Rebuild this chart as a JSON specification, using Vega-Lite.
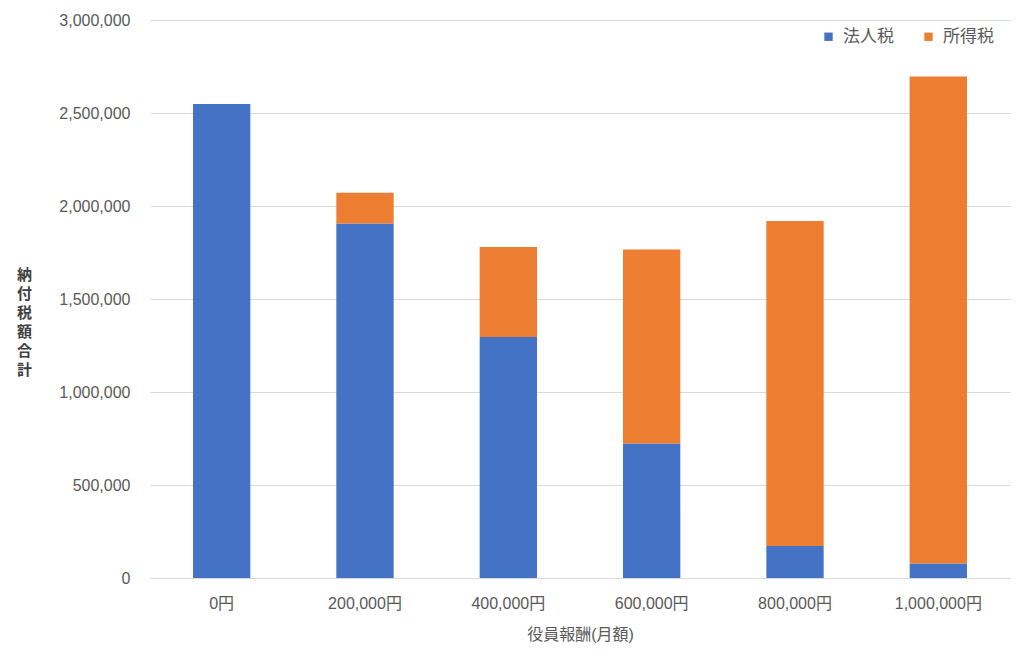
{
  "$schema": "https://vega.github.io/schema/vega-lite/v6.json",
  "autosize": "none",
  "width": 860,
  "height": 558,
  "padding": {"left": 150, "top": 20, "right": 14, "bottom": 83},
  "background": "white",
  "data": {
    "values": [
      {"報酬": "0円", "税": "法人税", "額": 2548000},
      {"報酬": "0円", "税": "所得税", "額": 0},
      {"報酬": "200,000円", "税": "法人税", "額": 1906000},
      {"報酬": "200,000円", "税": "所得税", "額": 165000},
      {"報酬": "400,000円", "税": "法人税", "額": 1296000},
      {"報酬": "400,000円", "税": "所得税", "額": 484000},
      {"報酬": "600,000円", "税": "法人税", "額": 723000},
      {"報酬": "600,000円", "税": "所得税", "額": 1043000},
      {"報酬": "800,000円", "税": "法人税", "額": 172000},
      {"報酬": "800,000円", "税": "所得税", "額": 1747000},
      {"報酬": "1,000,000円", "税": "法人税", "額": 78000},
      {"報酬": "1,000,000円", "税": "所得税", "額": 2618000}
    ]
  },
  "mark": {"type": "bar"},
  "encoding": {
    "x": {
      "field": "報酬",
      "type": "nominal",
      "sort": null,
      "scale": {"paddingInner": 0.6, "paddingOuter": 0.3},
      "axis": {
        "title": "役員報酬(月額)",
        "labelAngle": 0,
        "labelFontSize": 16,
        "labelColor": "#595959",
        "labelPadding": 17,
        "ticks": false,
        "domainColor": "#d9d9d9",
        "titleFontSize": 16,
        "titleFontWeight": "normal",
        "titleColor": "#595959",
        "titlePadding": 15
      }
    },
    "y": {
      "field": "額",
      "type": "quantitative",
      "stack": "zero",
      "scale": {"domain": [0, 3000000]},
      "axis": {
        "values": [0, 500000, 1000000, 1500000, 2000000, 2500000, 3000000],
        "format": ",d",
        "title": ["納", "付", "税", "額", "合", "計"],
        "titleAngle": 0,
        "titleX": -126,
        "titleY": 254,
        "titleAlign": "center",
        "titleBaseline": "middle",
        "titleLineHeight": 19,
        "titleFontSize": 15,
        "titleFontWeight": "bold",
        "titleColor": "#404040",
        "labelFontSize": 16,
        "labelColor": "#595959",
        "labelPadding": 20,
        "ticks": false,
        "domain": false,
        "gridColor": "#d9d9d9"
      }
    },
    "color": {
      "field": "税",
      "type": "nominal",
      "sort": ["法人税", "所得税"],
      "scale": {"domain": ["法人税", "所得税"], "range": ["#4472C4", "#ED7D31"]},
      "legend": {
        "title": null,
        "orient": "none",
        "legendX": 670,
        "legendY": 8,
        "direction": "horizontal",
        "symbolType": "square",
        "symbolSize": 70,
        "symbolStrokeWidth": 0,
        "labelFontSize": 17,
        "labelColor": "#595959",
        "columnPadding": 26,
        "labelOffset": 6
      }
    },
    "order": {"field": "税", "sort": "descending"}
  },
  "config": {
    "font": "Liberation Sans, Noto Sans CJK JP",
    "view": {"stroke": null}
  }
}
